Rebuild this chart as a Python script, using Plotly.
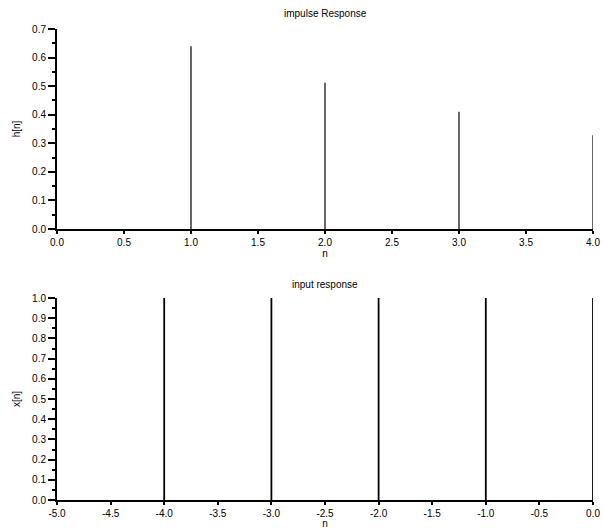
import plotly.graph_objects as go

# Data
n_h = [1, 2, 3, 4]
h_vals = [0.64, 0.512, 0.41, 0.328]
n_x = [-4, -3, -2, -1, 0]
x_vals = [1.0, 1.0, 1.0, 1.0, 1.0]

top_title = "impulse Response"
bot_title = "input response"

top_xticks = [0.0, 0.5, 1.0, 1.5, 2.0, 2.5, 3.0, 3.5, 4.0]
top_yticks = [0.0, 0.1, 0.2, 0.3, 0.4, 0.5, 0.6, 0.7]
bot_xticks = [-5.0, -4.5, -4.0, -3.5, -3.0, -2.5, -2.0, -1.5, -1.0, -0.5, 0.0]
bot_yticks = [0.0, 0.1, 0.2, 0.3, 0.4, 0.5, 0.6, 0.7, 0.8, 0.9, 1.0]

W, H = 603, 529
FONT = "Liberation Sans, Arial, sans-serif"


def stems(xs, ys):
    sx, sy = [], []
    for a, b in zip(xs, ys):
        sx += [a, a, None]
        sy += [0, b, None]
    return sx, sy


def labels(vals):
    return ["%.1f" % v for v in vals]


def px(x):
    return x / W


def py(y):
    return 1 - y / H


fig = go.Figure()
sx, sy = stems(n_h, h_vals)
fig.add_trace(go.Scatter(x=sx, y=sy, mode="lines", line=dict(color="black", width=1.2),
                         xaxis="x", yaxis="y", showlegend=False, cliponaxis=False, hoverinfo="skip"))
sx, sy = stems(n_x, x_vals)
fig.add_trace(go.Scatter(x=sx, y=sy, mode="lines", line=dict(color="black", width=1.8),
                         xaxis="x2", yaxis="y2", showlegend=False, cliponaxis=False, hoverinfo="skip"))

xd = [px(57), px(593)]
top_dom = [py(229), py(29)]
bot_dom = [py(500), py(298)]

tf = dict(family=FONT, size=10, color="black")
common_x = dict(showgrid=False, zeroline=False, showline=True, linecolor="black", linewidth=2,
                ticks="outside", ticklen=3, tickwidth=1.5, tickcolor="black",
                tickfont=tf, automargin=False,
                title=dict(text="n", font=tf, standoff=1))
common_y = dict(showgrid=False, zeroline=False, showline=True, linecolor="black", linewidth=2,
                ticks="outside", ticklen=7, tickwidth=1.5, tickcolor="black",
                tickfont=tf, automargin=False,
                minor=dict(ticks="outside", ticklen=3, tickwidth=1.5, tickcolor="black", dtick=0.05, showgrid=False))

fig.update_layout(
    width=W, height=H,
    margin=dict(l=0, r=0, t=0, b=0, autoexpand=False),
    paper_bgcolor="white", plot_bgcolor="white",
    xaxis=dict(domain=xd, anchor="y", range=[0, 4], tickvals=top_xticks, ticktext=labels(top_xticks), **common_x),
    yaxis=dict(domain=top_dom, anchor="x", range=[0, 0.7], tickvals=top_yticks, ticktext=labels(top_yticks),
               title=dict(text="h[n]", font=tf, standoff=10), **common_y),
    xaxis2=dict(domain=xd, anchor="y2", range=[-5, 0], tickvals=bot_xticks, ticktext=labels(bot_xticks), **common_x),
    yaxis2=dict(domain=bot_dom, anchor="x2", range=[0, 1], tickvals=bot_yticks, ticktext=labels(bot_yticks),
                title=dict(text="x[n]", font=tf, standoff=10), **common_y),
    annotations=[
        dict(text=top_title, x=(xd[0] + xd[1]) / 2, y=py(13), xref="paper", yref="paper",
             showarrow=False, font=tf, xanchor="center", yanchor="middle"),
        dict(text=bot_title, x=(xd[0] + xd[1]) / 2, y=py(284), xref="paper", yref="paper",
             showarrow=False, font=tf, xanchor="center", yanchor="middle"),
    ],
)

fig.write_html("out.html", config={"displayModeBar": False},
               post_script="document.body.style.margin='0';document.body.style.overflow='hidden';")
